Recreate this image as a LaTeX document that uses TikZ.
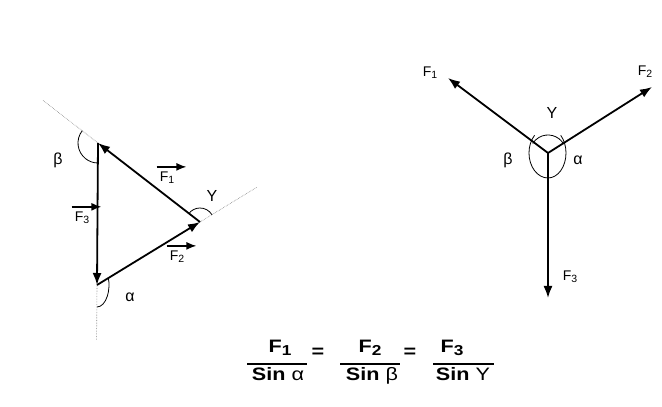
\documentclass[tikz,border=0pt]{standalone}
\usepackage{fontspec}
\setmainfont{Liberation Sans}
\newfontfamily\eqfont[FakeStretch=1.2]{Liberation Sans}
\usetikzlibrary{arrows.meta,calc}
\tikzset{>={Latex[length=12pt,width=9pt]}}
\tikzset{
    force/.style={line width=1.8pt, ->},
    ext/.style={densely dotted, gray, line width=0.6pt},
    ang/.style={line width=0.8pt},
    lbl/.style={inner sep=1pt, font=\fontsize{14}{14}\selectfont},
    greek/.style={inner sep=1pt, font=\fontsize{16}{16}\selectfont},
    vecar/.style={line width=1.5pt, -{Latex[length=10pt,width=8pt]}},
    frac/.style={inner sep=0pt, anchor=base, font=\eqfont\bfseries\fontsize{18}{18}\selectfont},
    fracbar/.style={line width=1.3pt}
}
\newcommand{\idx}[1]{\raisebox{-0.3ex}{\fontsize{0.75em}{1em}\selectfont #1}}
\newcommand{\bigidx}[1]{\raisebox{-0.25ex}{\fontsize{0.8em}{1em}\selectfont #1}}
\newcommand{\vecover}[1]{
    \draw[vecar]([shift={(-2pt,4pt)}]#1.north west)--([shift={(11pt,4pt)}]#1.north east)
}

\begin{document}
\begin{tikzpicture}[x=1pt, y=1pt]
    \useasboundingbox (0, 0) rectangle (662, 407);
    % triangle of forces
    \coordinate (A) at (98, 264);
    \coordinate (B) at (97, 122);
    \coordinate (C) at (200, 185);
    \draw[ext](A)--($(A)!-0.54!(C)$);
    \draw[ext](C)--($(C)!-0.55!(B)$);
    \draw[ext](B)--($(B)!-0.39!(A)$);
    \draw[force](A)--(B);
    \draw[force](B)--(C);
    \draw[force](C)--(A);
    \draw[ang](A)++(142:20) arc[start angle=142, end angle=270, radius=20];
    \draw[ang](C)++(31.5:14) arc[start angle=31.5, end angle=142, radius=14];
    \draw[ang]($(B)+(0,-22)$) arc[start angle=-90, end angle=20, x radius=12, y radius=22];
    \node[greek] (beta1) at (58, 247) {β};
    \node[greek] (gamma1) at (212, 211) {Υ};
    \node[greek] (alpha1) at (130, 110) {α};
    \node[lbl] (f1) at (167, 229) {F\idx{1}};
    \node[lbl] (f2) at (177, 150) {F\idx{2}};
    \node[lbl] (f3) at (82, 189) {F\idx{3}};
    \vecover{f1};
    \vecover{f2};
    \vecover{f3};
    % forces at one point
    \begin{scope}
        \coordinate (O) at (548, 254);
        \coordinate (P1) at (448, 329);
        \coordinate (P2) at (652, 320);
        \coordinate (P3) at (548, 109);
        \draw[force](O)--(P1);
        \draw[force](O)--(P2);
        \draw[force](O)--(P3);
        \draw[ang](O)++(30:18) arc[start angle=30, end angle=148, radius=18];
        \draw[ang](O)++(135:19 and 25) arc[start angle=135, end angle=270, x radius=19, y radius=25];
        \draw[ang](O)++(45:18 and 25) arc[start angle=45, end angle=-90, x radius=18, y radius=25];
        \node[lbl] (F1) at (430, 334) {F\idx{1}};
        \node[lbl] (F2) at (645, 335) {F\idx{2}};
        \node[lbl] (F3) at (570, 130) {F\idx{3}};
        \node[greek] (gamma2) at (552, 294) {Υ};
        \node[greek] (beta2) at (508, 247) {β};
        \node[greek] (alpha2) at (578, 247) {α};
    \end{scope}
    % sine rule
    \node[frac] (n1) at (280, 54) {F\bigidx{1}};
    \node[frac] (d1) at (278, 26) {Sin {\mdseries α}};
    \node[frac] (eq1) at (318, 49) {=};
    \node[frac] (n2) at (370, 54) {F\bigidx{2}};
    \node[frac] (d2) at (372, 26) {Sin {\mdseries β}};
    \node[frac] (eq2) at (410, 49) {=};
    \node[frac] (n3) at (452, 54) {F\bigidx{3}};
    \node[frac] (d3) at (463, 26) {Sin {\mdseries Υ}};
    \draw[fracbar](247, 43)--(307, 43);
    \draw[fracbar](340, 43)--(400, 43);
    \draw[fracbar](433, 43)--(494, 43);
\end{tikzpicture}
\end{document}
